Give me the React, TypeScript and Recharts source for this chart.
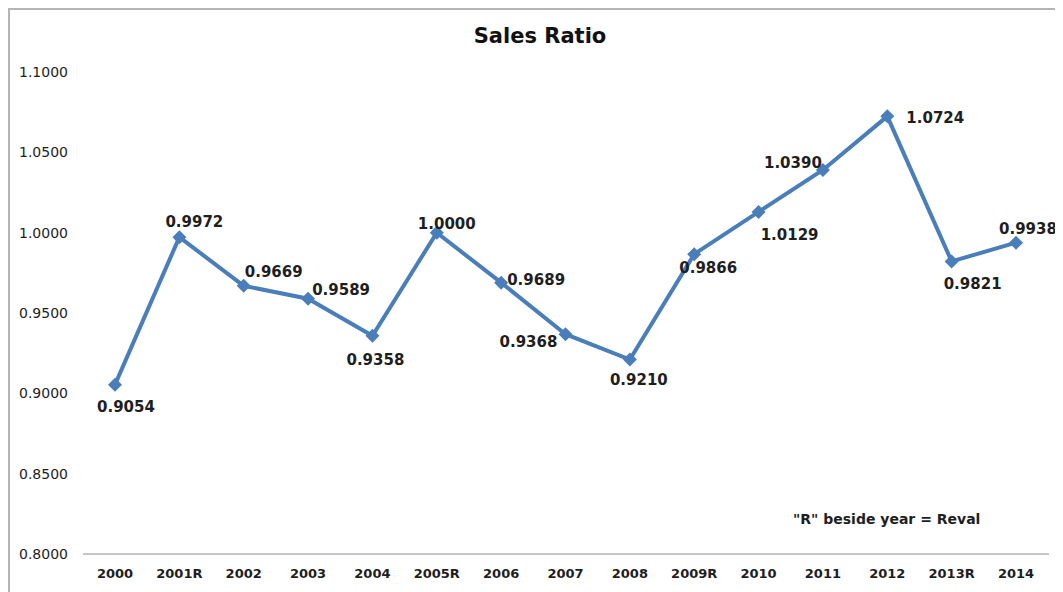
import { LineChart, Line, XAxis, YAxis, LabelList } from "recharts";

const years = [
  "2000", "2001R", "2002", "2003", "2004", "2005R", "2006", "2007",
  "2008", "2009R", "2010", "2011", "2012", "2013R", "2014",
];
const ratios = [
  0.9054, 0.9972, 0.9669, 0.9589, 0.9358, 1.0, 0.9689, 0.9368,
  0.921, 0.9866, 1.0129, 1.039, 1.0724, 0.9821, 0.9938,
];
const yTicks = [0.8, 0.85, 0.9, 0.95, 1.0, 1.05, 1.1];

// where each value label sits relative to its marker (dx, dy of the text centre)
const labelOffsets: [number, number][] = [
  [11, 22], [15, -15], [30, -14], [33, -9], [3, 24], [10, -9], [35, -3], [-37, 8],
  [9, 20], [14, 14], [31, 23], [-30, -7], [48, 2], [21, 23], [12, -14],
];

const data = years.map((year, i) => ({ year, ratio: ratios[i] }));

const LINE = "#4A7EBB";
const TEXT = "#1e1e1e";
const FONT = "'DejaVu Sans', Verdana, sans-serif";

const Diamond = (props: any) => {
  const { cx, cy } = props;
  if (cx == null || cy == null) return null;
  const r = 7;
  return (
    <polygon
      points={`${cx},${cy - r} ${cx + r},${cy} ${cx},${cy + r} ${cx - r},${cy}`}
      fill={LINE}
    />
  );
};

const ValueLabel = (props: any) => {
  const { x, y, value, index } = props;
  const [dx, dy] = labelOffsets[index] || [0, -12];
  return (
    <text
      x={x + dx}
      y={y + dy}
      textAnchor="middle"
      dominantBaseline="central"
      fontFamily={FONT}
      fontWeight="bold"
      fontSize={15}
      fill={TEXT}
    >
      {Number(value).toFixed(4)}
    </text>
  );
};

export default function App() {
  return (
    <div
      style={{
        position: "relative",
        width: 1055,
        height: 584,
        boxSizing: "border-box",
        borderTop: "2px solid #b4b4b4",
        borderLeft: "2px solid #b4b4b4",
        background: "#fff",
        fontFamily: FONT,
      }}
    >
      <div
        style={{
          position: "absolute",
          left: 0,
          width: 1060,
          top: 16,
          textAlign: "center",
          fontSize: 21,
          lineHeight: "21px",
          fontWeight: "bold",
          color: "#111",
        }}
      >
        Sales Ratio
      </div>
      <LineChart
        width={1053}
        height={582}
        data={data}
        margin={{ top: 62, right: 14, bottom: 8, left: 0 }}
      >
        <XAxis
          dataKey="year"
          padding={{ left: 32, right: 33 }}
          axisLine={{ stroke: "#8c8c8c", strokeWidth: 1 }}
          tickLine={false}
          tickSize={0}
          tickMargin={15}
          height={30}
          interval={0}
          tick={{ fill: TEXT, fontSize: 13, fontWeight: "bold", fontFamily: FONT }}
        />
        <YAxis
          domain={[0.8, 1.1]}
          ticks={yTicks}
          width={73}
          axisLine={false}
          tickLine={false}
          tickSize={0}
          tickMargin={15}
          tickFormatter={(v: number) => v.toFixed(4)}
          tick={{ fill: TEXT, fontSize: 14, fontFamily: FONT }}
        />
        <Line
          type="linear"
          dataKey="ratio"
          stroke={LINE}
          strokeWidth={4}
          dot={<Diamond />}
          activeDot={false}
          isAnimationActive={false}
        >
          <LabelList dataKey="ratio" content={<ValueLabel />} />
        </Line>
      </LineChart>
      <div
        style={{
          position: "absolute",
          left: 783,
          top: 502,
          fontSize: 14,
          lineHeight: "14px",
          fontWeight: "bold",
          color: TEXT,
          whiteSpace: "nowrap",
        }}
      >
        "R" beside year = Reval
      </div>
    </div>
  );
}
